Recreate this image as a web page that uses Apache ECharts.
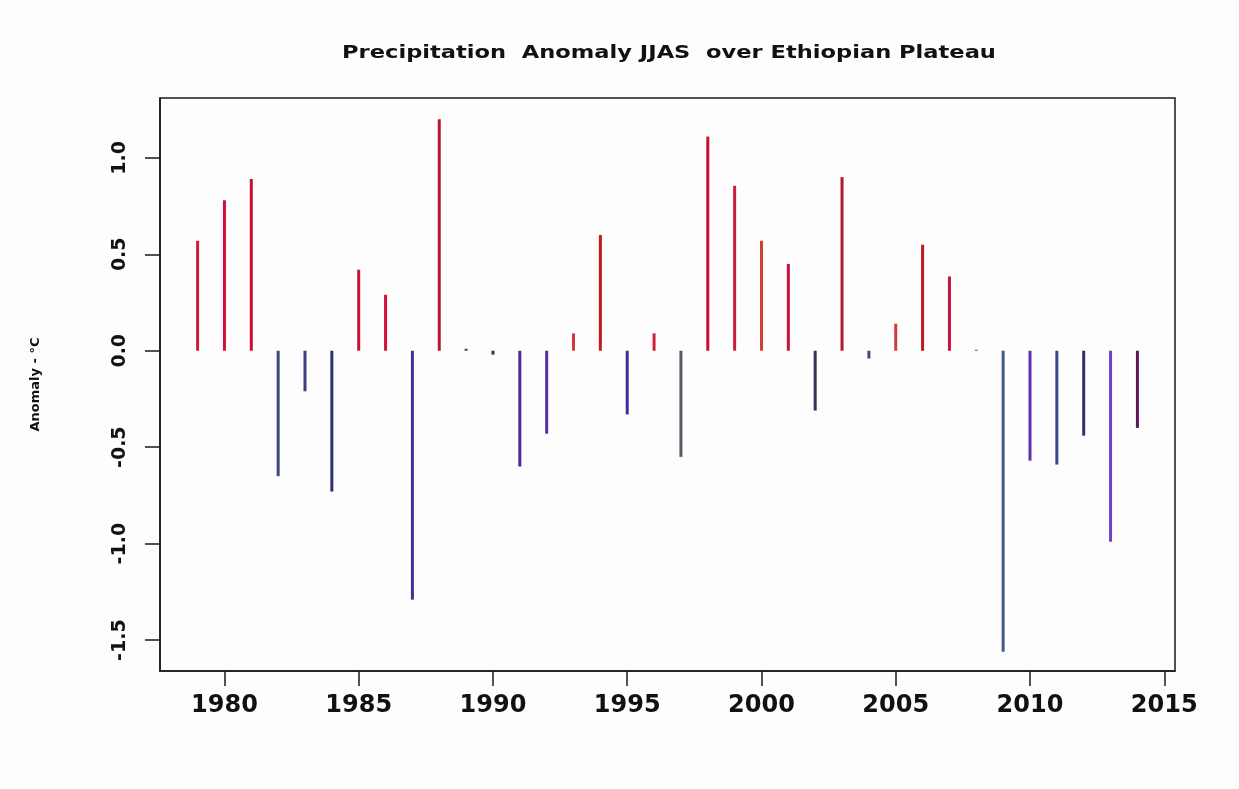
<!DOCTYPE html>
<html>
<head>
<meta charset="utf-8">
<script src="https://cdn.jsdelivr.net/npm/echarts@6/dist/echarts.min.js"></script>
<style>
html,body{margin:0;padding:0;background:#fdfdfd;}
#chart{width:1239px;height:789px;}
</style>
</head>
<body>
<div id="chart"></div>
<script>
// ---- data ----
const years = [1979,1980,1981,1982,1983,1984,1985,1986,1987,1988,1989,1990,1991,1992,1993,1994,1995,1996,1997,1998,1999,2000,2001,2002,2003,2004,2005,2006,2007,2008,2009,2010,2011,2012,2013,2014];
const anomalies = [0.57,0.78,0.89,-0.65,-0.21,-0.73,0.42,0.29,-1.29,1.20,0.01,-0.02,-0.60,-0.43,0.09,0.60,-0.33,0.09,-0.55,1.11,0.855,0.57,0.45,-0.31,0.90,-0.04,0.14,0.55,0.385,0.005,-1.56,-0.57,-0.59,-0.44,-0.99,-0.40];
const xTickLabels = [1980,1985,1990,1995,2000,2005,2010,2015];
const yTickLabels = [-1.5,-1.0,-0.5,0.0,0.5,1.0];
const titleText = 'Precipitation  Anomaly JJAS  over Ethiopian Plateau';
const yName = 'Anomaly - °C';

// ---- styles ----
const barColors = ['#c81e3c','#d0103a','#c8102e','#3d4a78','#3d3f80','#2e3272','#c8142e','#d0103a','#3c3490','#b81834','#444444','#333355',
  '#4b2a9a','#5030a0','#d03a3a','#c81818','#3d2f9a','#d0203a','#5a5a66','#c8102e','#c81e3c','#d04030','#c8103a','#33335a',
  '#b01830','#3b4a80','#d03a40','#c01820','#c8103a','#555555','#3f5a86','#6030b0','#3b4a80','#3a2a70','#7040c0','#5a1a5a'];

const chart = echarts.init(document.getElementById('chart'), null, {renderer:'canvas'});
const font = 'DejaVu Sans';
chart.setOption({
  backgroundColor:'#fdfdfd',
  animation:false,
  graphic:[{
    type:'text', x:669, y:54, scaleX:1.41, scaleY:1.05,
    style:{text:titleText, fontFamily:font, fontWeight:'bold', fontSize:16, fill:'#111',
      textAlign:'center', textVerticalAlign:'middle'}
  }],
  grid:{left:160,right:64,top:98,bottom:118,show:true,borderColor:'#1a1a1a',borderWidth:1.5,backgroundColor:'transparent'},
  xAxis:{
    type:'value', min:1977.6, max:2015.4,
    splitLine:{show:false},
    axisLine:{show:true,onZero:false,lineStyle:{color:'#1a1a1a',width:1.5}},
    axisTick:{show:true,length:15,customValues:xTickLabels,lineStyle:{color:'#1a1a1a',width:1.5}},
    axisLabel:{customValues:xTickLabels,margin:23,fontFamily:font,fontWeight:'bold',fontSize:24,color:'#111',
      formatter:v=>String(v)}
  },
  yAxis:{
    type:'value', min:-1.66, max:1.31,
    name:yName, nameLocation:'middle', nameGap:118, nameRotate:90,
    nameTextStyle:{fontFamily:font,fontWeight:'bold',fontSize:13,color:'#111'},
    splitLine:{show:false},
    axisLine:{show:true,lineStyle:{color:'#1a1a1a',width:1.5}},
    axisTick:{show:true,length:15,customValues:yTickLabels,lineStyle:{color:'#1a1a1a',width:1.5}},
    axisLabel:{customValues:yTickLabels,rotate:90,margin:30,fontFamily:font,fontWeight:'bold',fontSize:19,color:'#111',
      formatter:v=>v.toFixed(1)}
  },
  series:[{
    type:'bar',
    barWidth:3,
    data:years.map((y,i)=>({value:[y,anomalies[i]],itemStyle:{color:barColors[i]}})),
  }]
});
</script>
</body>
</html>
